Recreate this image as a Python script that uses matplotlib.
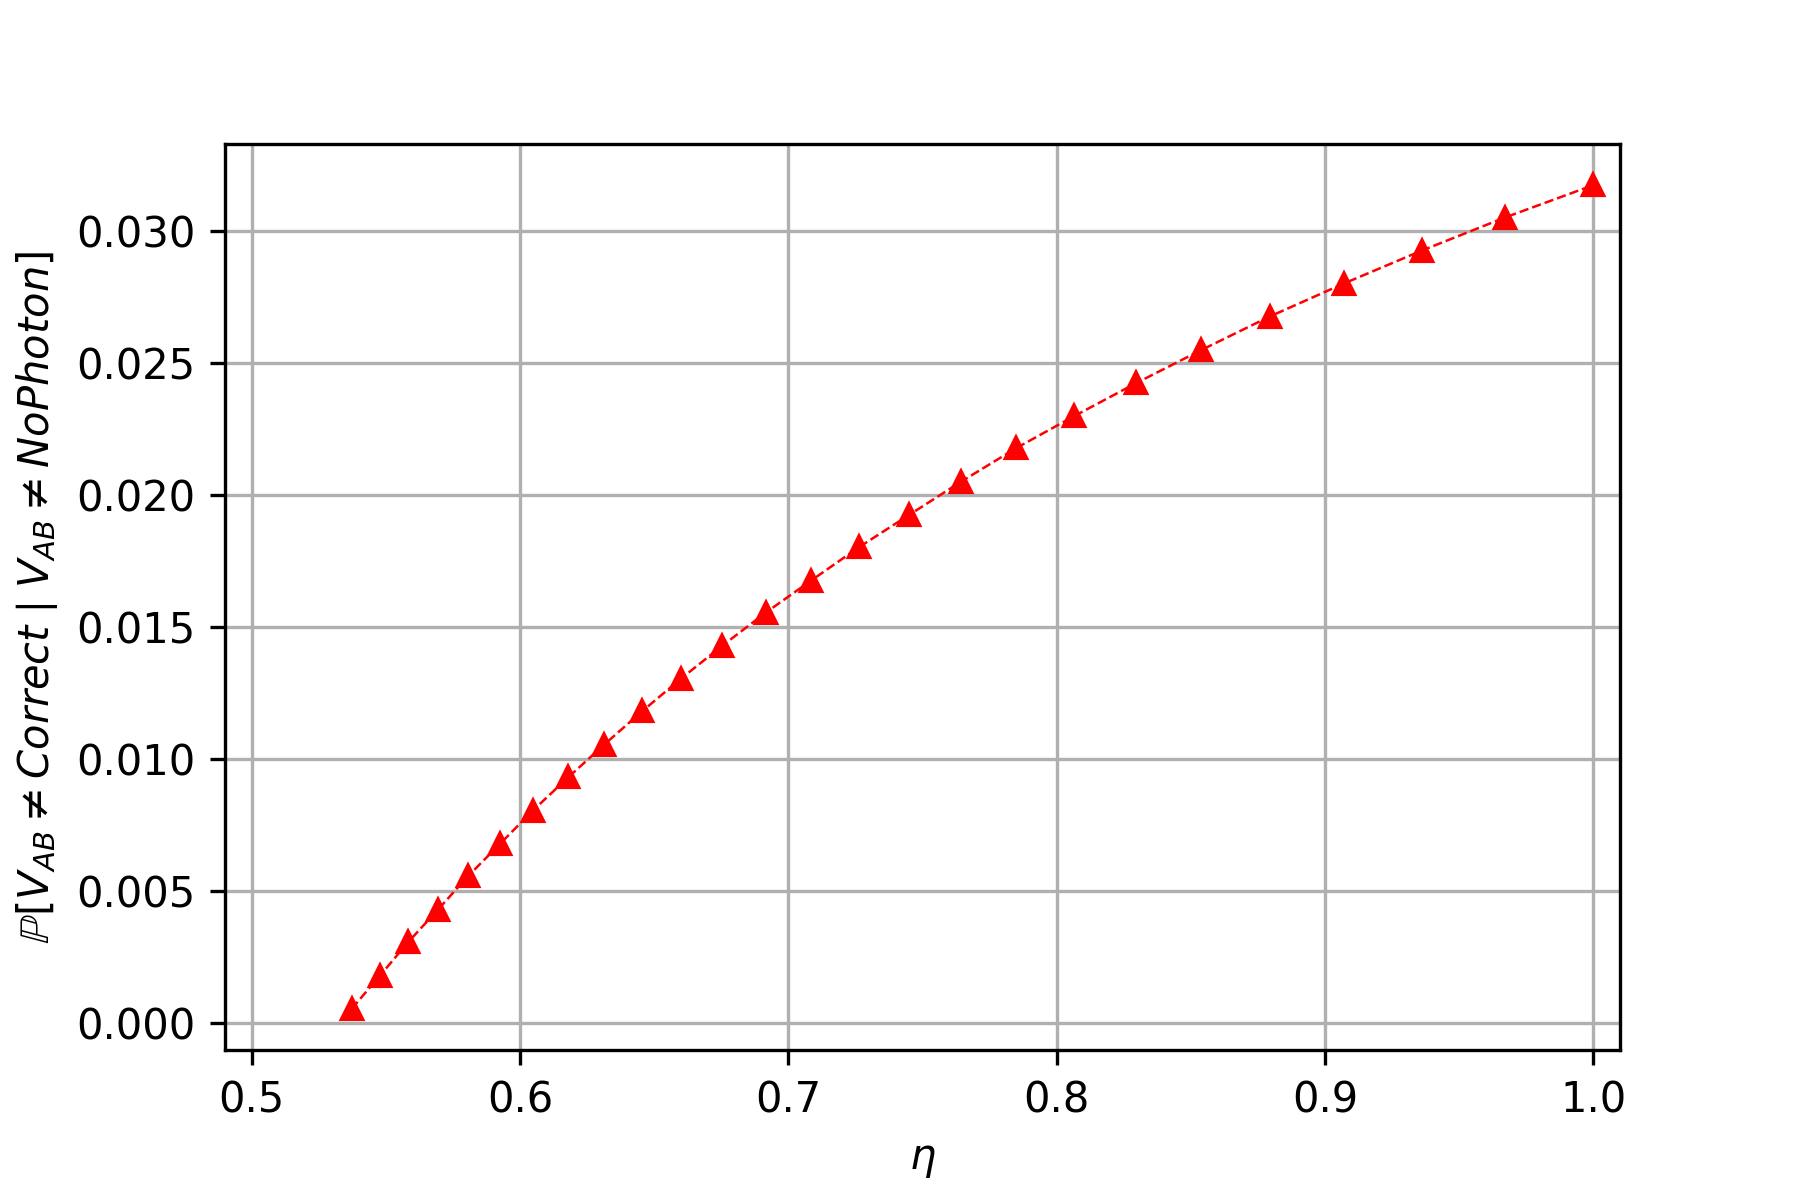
import matplotlib
matplotlib.use("Agg")
import matplotlib.pyplot as plt

eta = [0.5372, 0.5478, 0.5582, 0.5693, 0.5805, 0.5925, 0.6047, 0.6179, 0.6313, 0.6454,
       0.6598, 0.6752, 0.6916, 0.7083, 0.7262, 0.7450, 0.7642, 0.7847, 0.8066, 0.8295,
       0.8539, 0.8794, 0.9070, 0.9361, 0.9670, 1.0000]
prob = [0.00053, 0.00179, 0.00305, 0.00428, 0.00555, 0.00678, 0.00804, 0.00930, 0.01054, 0.01180,
        0.01303, 0.01428, 0.01555, 0.01675, 0.01802, 0.01925, 0.02050, 0.02177, 0.02300, 0.02424,
        0.02550, 0.02677, 0.02802, 0.02927, 0.03052, 0.03175]

fig, ax = plt.subplots(figsize=(6, 4), dpi=300)
fig.subplots_adjust(left=0.125, right=0.9, bottom=0.125, top=0.88)
ax.plot(eta, prob, 'r^--', linewidth=0.6, markersize=5)
ax.set_xlim(0.49, 1.01)
ax.grid(True)
ax.set_xlabel(r'$\eta$')
ax.set_ylabel(r'$\mathbb{P}[V_{AB} \neq Correct \mid V_{AB} \neq NoPhoton]$')
fig.savefig('out.png', dpi=300)
